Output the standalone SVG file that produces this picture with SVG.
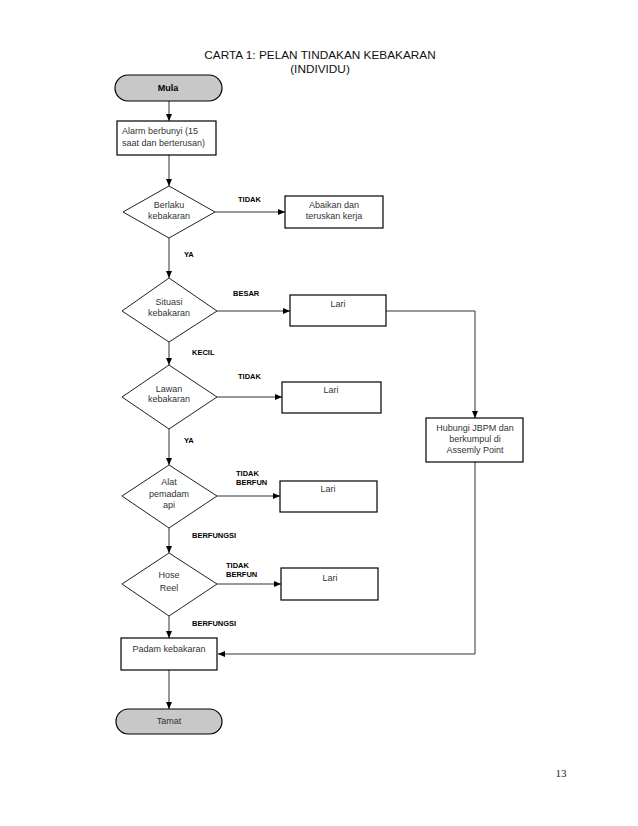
<svg xmlns="http://www.w3.org/2000/svg" width="638" height="826" viewBox="0 0 638 826">
<style>
.box{fill:#fff;stroke:#000;stroke-width:1.2}
.term{fill:#c8c8c8;stroke:#000;stroke-width:1.2}
.dia{fill:#fff;stroke:#222;stroke-width:1}
.t{font-family:"Liberation Sans",Arial,sans-serif;font-size:9px;fill:#333}
.c{text-anchor:middle}
.lbl{font-family:"Liberation Sans",Arial,sans-serif;font-size:7.5px;font-weight:bold;fill:#000}
.ln{fill:none;stroke:#333;stroke-width:1}
</style>
<defs>
<marker id="ah" markerWidth="8" markerHeight="8" refX="7" refY="4" orient="auto" markerUnits="userSpaceOnUse">
<path d="M0,1 L7,4 L0,7 Z" fill="#000"/>
</marker>
</defs>
<rect width="638" height="826" fill="#fff"/>
<g id="title">
<text x="320" y="59" class="c" font-family="Liberation Sans,Arial,sans-serif" font-size="11.8" fill="#111">CARTA 1: PELAN TINDAKAN KEBAKARAN</text>
<text x="320" y="73" class="c" font-family="Liberation Sans,Arial,sans-serif" font-size="11.8" fill="#111">(INDIVIDU)</text>
</g>
<g id="connectors">
<line class="ln" x1="169" y1="101" x2="169" y2="121" marker-end="url(#ah)"/>
<line class="ln" x1="169" y1="155" x2="169" y2="186" marker-end="url(#ah)"/>
<line class="ln" x1="215" y1="212" x2="285" y2="212" marker-end="url(#ah)"/>
<line class="ln" x1="169" y1="238" x2="169" y2="278" marker-end="url(#ah)"/>
<line class="ln" x1="217" y1="311" x2="290" y2="311" marker-end="url(#ah)"/>
<polyline class="ln" points="386,311 475,311 475,418" marker-end="url(#ah)"/>
<line class="ln" x1="169" y1="342" x2="169" y2="365" marker-end="url(#ah)"/>
<line class="ln" x1="217" y1="397" x2="282" y2="397" marker-end="url(#ah)"/>
<line class="ln" x1="169" y1="429" x2="169" y2="465" marker-end="url(#ah)"/>
<line class="ln" x1="217" y1="496" x2="280" y2="496" marker-end="url(#ah)"/>
<line class="ln" x1="169" y1="528" x2="169" y2="553" marker-end="url(#ah)"/>
<line class="ln" x1="217" y1="584" x2="281" y2="584" marker-end="url(#ah)"/>
<line class="ln" x1="169" y1="616" x2="169" y2="638" marker-end="url(#ah)"/>
<polyline class="ln" points="475,462 475,654 218,654" marker-end="url(#ah)"/>
<line class="ln" x1="169" y1="670" x2="169" y2="709" marker-end="url(#ah)"/>
<text class="lbl" x="238" y="202">TIDAK</text>
<text class="lbl" x="184" y="257">YA</text>
<text class="lbl" x="233" y="296">BESAR</text>
<text class="lbl" x="192" y="355">KECIL</text>
<text class="lbl" x="238" y="379">TIDAK</text>
<text class="lbl" x="184" y="443">YA</text>
<text class="lbl" x="236" y="476">TIDAK</text>
<text class="lbl" x="236" y="485">BERFUN</text>
<text class="lbl" x="192" y="538">BERFUNGSI</text>
<text class="lbl" x="226" y="568">TIDAK</text>
<text class="lbl" x="226" y="577">BERFUN</text>
<text class="lbl" x="192" y="626">BERFUNGSI</text>
</g>
<g id="mula">
<rect class="term" x="115" y="75" width="107" height="26" rx="13"/>
<text class="c" x="168" y="91" font-family="Liberation Sans,Arial,sans-serif" font-size="9" font-weight="bold" fill="#000">Mula</text>
</g>
<g id="alarm">
<rect class="box" x="117" y="121" width="99" height="34"/>
<text class="t" x="122" y="134">Alarm berbunyi (15</text>
<text class="t" x="122" y="146">saat dan berterusan)</text>
</g>
<g id="d-berlaku">
<polygon class="dia" points="169,186 215,212 169,238 123,212"/>
<text class="t c" x="169" y="208">Berlaku</text>
<text class="t c" x="169" y="219">kebakaran</text>
</g>
<g id="abaikan">
<rect class="box" x="285" y="196" width="98" height="32"/>
<text class="t c" x="334" y="208">Abaikan dan</text>
<text class="t c" x="334" y="219">teruskan kerja</text>
</g>
<g id="d-situasi">
<polygon class="dia" points="169,278 217,311 169,342 122,311"/>
<text class="t c" x="169" y="305">Situasi</text>
<text class="t c" x="169" y="316">kebakaran</text>
</g>
<g id="lari1">
<rect class="box" x="290" y="295" width="96" height="31"/>
<text class="t c" x="338" y="307">Lari</text>
</g>
<g id="hubungi">
<rect class="box" x="426" y="418" width="97" height="44"/>
<text class="t c" x="475" y="431">Hubungi JBPM dan</text>
<text class="t c" x="475" y="442">berkumpul di</text>
<text class="t c" x="475" y="453">Assemly Point</text>
</g>
<g id="d-lawan">
<polygon class="dia" points="169,365 217,397 169,429 122,397"/>
<text class="t c" x="169" y="392">Lawan</text>
<text class="t c" x="169" y="402">kebakaran</text>
</g>
<g id="lari2">
<rect class="box" x="282" y="382" width="99" height="31"/>
<text class="t c" x="331" y="393">Lari</text>
</g>
<g id="d-alat">
<polygon class="dia" points="169,465 217,496 169,528 122,496"/>
<text class="t c" x="169" y="485">Alat</text>
<text class="t c" x="169" y="497">pemadam</text>
<text class="t c" x="169" y="508">api</text>
</g>
<g id="lari3">
<rect class="box" x="280" y="481" width="97" height="31"/>
<text class="t c" x="328" y="492">Lari</text>
</g>
<g id="d-hose">
<polygon class="dia" points="169,553 217,584 169,616 122,584"/>
<text class="t c" x="169" y="578">Hose</text>
<text class="t c" x="169" y="591">Reel</text>
</g>
<g id="lari4">
<rect class="box" x="281" y="568" width="97" height="32"/>
<text class="t c" x="330" y="581">Lari</text>
</g>
<g id="padam">
<rect class="box" x="121" y="638" width="96" height="32"/>
<text class="t c" x="169" y="652">Padam kebakaran</text>
</g>
<g id="tamat">
<rect class="term" x="116" y="709" width="106" height="25" rx="12.5"/>
<text class="t c" x="169" y="724" fill="#111">Tamat</text>
</g>
<text x="561" y="777" text-anchor="middle" font-family="Liberation Serif,Times New Roman,serif" font-size="11" fill="#222">13</text>
</svg>
